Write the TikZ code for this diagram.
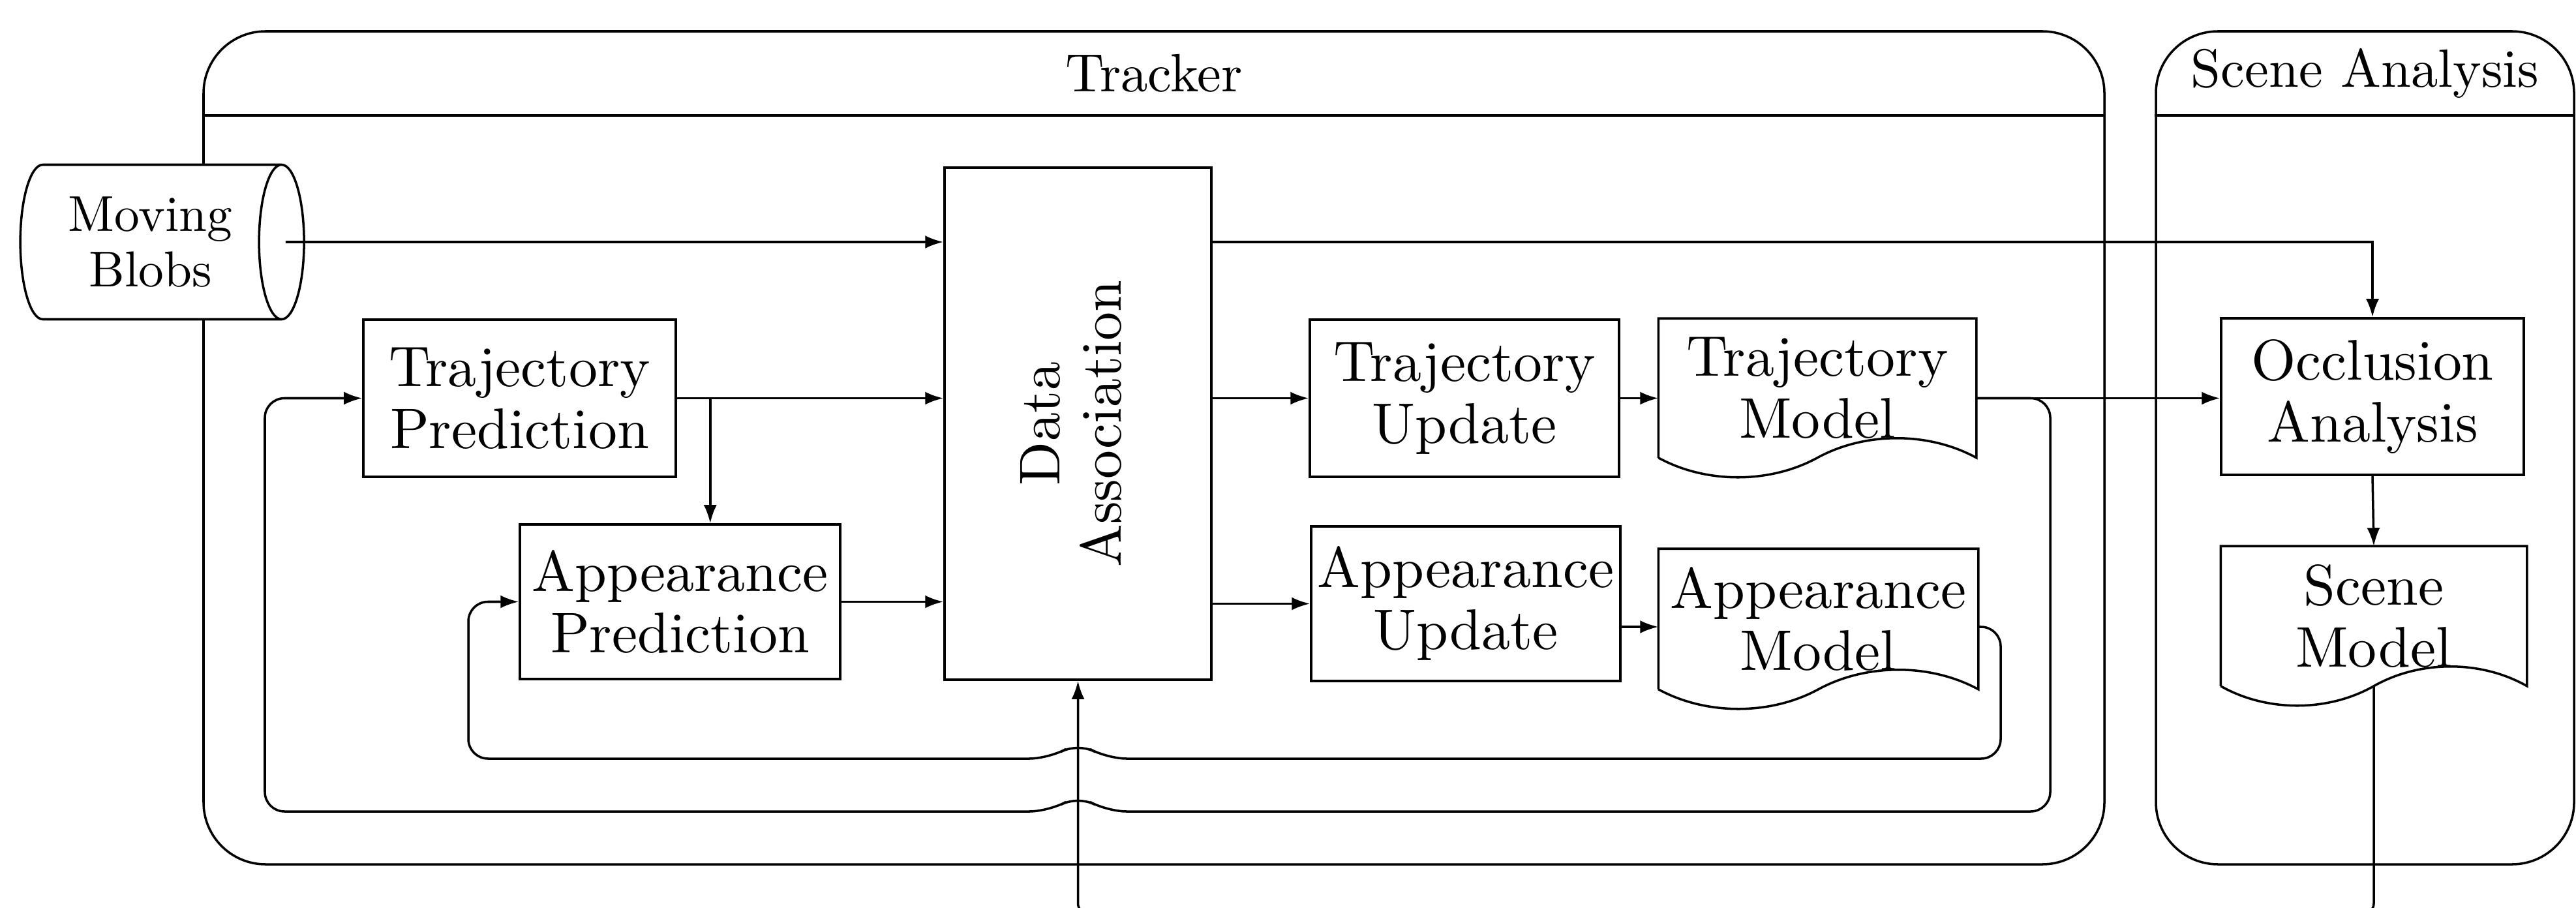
\documentclass[tikz,border=0pt]{standalone}
\usepackage{fontspec}
\setmainfont{lmroman10-regular.otf}
\usepackage{tikz}
\usetikzlibrary{arrows.meta,positioning,shapes.geometric,calc}

\begin{document}
\begin{tikzpicture}[
    font=\fontsize{25}{27}\selectfont,
    line width=1pt,
    bloc/.style={draw,fill=white,align=center,inner sep=0pt},
    docu/.style={align=center,inner sep=0pt},
    cadre/.style={draw,rounded corners=9.5mm,inner sep=0pt},
    titre/.style={font=\fontsize{23.5}{27}\selectfont},
    fleche/.style={-{Latex[length=2.8mm,width=2mm]}},
    boucle/.style={rounded corners=3mm}]
  % echelle : 1 cm = 100 px, y vers le bas
  \useasboundingbox (0,0) rectangle (39.49,-13.92);
  % cadres Tracker / Scene Analysis
  \node[cadre,minimum width=29.14cm,minimum height=12.77cm] (tracker) at (17.69,-6.865) {};
  \node[cadre,minimum width=6.41cm,minimum height=12.77cm] (scene) at (36.255,-6.865) {};
  \draw (tracker.west |- 0,-1.77) -- (tracker.east |- 0,-1.77);
  \draw (scene.west |- 0,-1.77) -- (scene.east |- 0,-1.77);
  \node[titre] (titretrk) at (17.69,-1.12) {Tracker};
  \node[titre] (titresce) at (36.255,-1.12) {Scene Analysis};
  % blocs
  \node[draw,fill=white,shape=cylinder,aspect=0.5,minimum width=2.37cm,minimum height=4.35cm,
        align=center,inner sep=0pt,font=\fontsize{22}{24}\selectfont] (blobs) at (2.305,-3.71) {Moving\\Blobs};
  \node[bloc,minimum width=4.09cm,minimum height=7.85cm] (assoc) at (16.525,-6.495)
    {\rotatebox{90}{\begin{tabular}{@{}c@{}}Data\\Association\end{tabular}}};
  \node[bloc,minimum width=4.79cm,minimum height=2.41cm] (trajpred) at (7.965,-6.105) {Trajectory\\Prediction};
  \node[bloc,minimum width=4.91cm,minimum height=2.37cm] (apppred) at (10.425,-9.225) {Appearance\\Prediction};
  \node[bloc,minimum width=4.74cm,minimum height=2.41cm] (trajmaj) at (22.45,-6.105) {Trajectory\\Update};
  \node[bloc,minimum width=4.74cm,minimum height=2.37cm] (appmaj) at (22.47,-9.255) {Appearance\\Update};
  \node[docu,minimum width=4.84cm,minimum height=2.10cm] (trajmod) at (27.86,-5.95) {Trajectory\\Model};
  \node[docu,minimum width=4.87cm,minimum height=2.12cm] (appmod) at (27.875,-9.49) {Appearance\\Model};
  \node[bloc,minimum width=4.64cm,minimum height=2.40cm] (occl) at (36.37,-6.08) {Occlusion\\Analysis};
  \node[docu,minimum width=4.66cm,minimum height=2.11cm] (scenemod) at (36.39,-9.445) {Scene\\Model};
  % contour des documents (bas ondule)
  \foreach \d in {trajmod,appmod,scenemod}
    \draw (\d.south west) -- (\d.north west) -- (\d.north east) -- (\d.south east)
      .. controls ($(\d.south east)!0.3!(\d.south)+(0,0.4)$) and ($(\d.south east)!0.7!(\d.south)+(0,0.4)$) .. (\d.south)
      .. controls ($(\d.south)!0.3!(\d.south west)+(0,-0.4)$) and ($(\d.south)!0.7!(\d.south west)+(0,-0.4)$) .. (\d.south west);
  % fleches
  \draw[fleche] ([xshift=-3mm]blobs.east) -- (blobs -| assoc.west);
  \draw[fleche] (assoc.east |- blobs) -| (occl.north);
  \draw[fleche] (trajpred.east) -- (trajpred.east -| assoc.west);
  \coordinate (branche) at ([xshift=5.1mm]trajpred.east);
  \draw[fleche] (branche) -- (branche |- apppred.north);
  \draw[fleche] (apppred.east) -- (apppred.east -| assoc.west);
  \draw[fleche] (assoc.east |- trajmaj.west) -- (trajmaj.west);
  \draw[fleche] (assoc.east |- appmaj.west) -- (appmaj.west);
  \draw[fleche] (trajmaj.east) -- (trajmaj.east -| trajmod.west);
  \coordinate (entreeam) at ([yshift=-1.2mm]appmod.west);
  \draw[fleche] (appmaj.east |- entreeam) -- (entreeam);
  \draw[fleche] (trajmaj -| trajmod.east) -- (trajmaj -| occl.west);
  \draw[fleche] (occl.south) -- (scenemod.north);
  % boucles de retour
  \draw[fleche,boucle] (trajmaj -| trajmod.east) -| (31.43,-12.44) -- (16.97,-12.44) -- (16.525,-12.19)
    -- (16.08,-12.44) -- (4.06,-12.44) |- (trajpred.west);
  \draw[fleche,boucle] (entreeam -| appmod.east) -| (30.67,-11.63) -- (16.97,-11.63) -- (16.525,-11.38)
    -- (16.08,-11.63) -- (7.18,-11.63) |- (apppred.west);
  \draw[fleche,rounded corners=1.5mm] (scenemod.south) -- (scenemod.south |- 0,-14.0) -| (assoc.south);
\end{tikzpicture}
\end{document}
